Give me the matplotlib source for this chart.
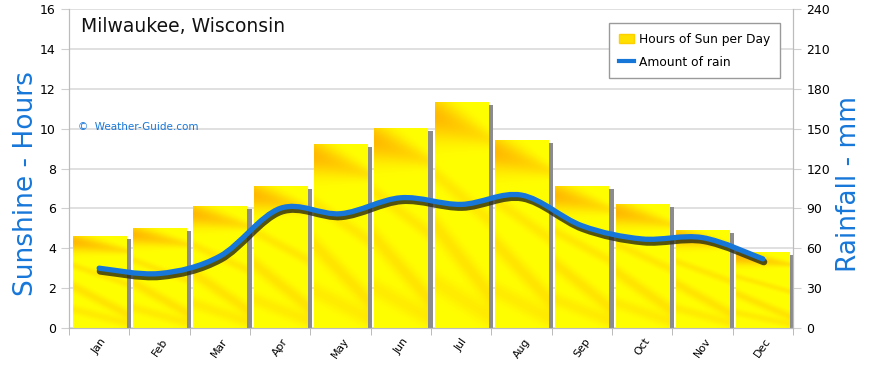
import matplotlib
matplotlib.use("Agg")
import matplotlib.pyplot as plt
import matplotlib.transforms as mtransforms
from matplotlib.path import Path
from matplotlib.patches import PathPatch, Patch
from matplotlib.lines import Line2D
import numpy as np

plt.rcParams['font.family'] = ['DejaVu Sans']

# data
months = ['Jan', 'Feb', 'Mar', 'Apr', 'May', 'Jun',
          'Jul', 'Aug', 'Sep', 'Oct', 'Nov', 'Dec']
sun_hours = [4.6, 5.0, 6.1, 7.1, 9.2, 10.0, 11.3, 9.4, 7.1, 6.2, 4.9, 3.8]
rain_mm = [45, 41, 54, 90, 86, 98, 93, 100, 77, 67, 68, 52]

title = 'Milwaukee, Wisconsin'
blue = '#1777d9'


def bar_texture(n=120, m=60):
    # yellow with an orange wedge at the top and faint streaks below
    v, u = np.mgrid[0:1:n * 1j, 0:1:m * 1j]
    wedge = np.exp(-((v - 0.06 - 0.10 * u) / (0.09 * (1 - 0.7 * u) + 0.01)) ** 2)
    w = 0.8 * wedge * (1 - 0.6 * u)
    w += 0.25 * np.exp(-((v - 0.32 - 0.20 * u) / 0.04) ** 2)
    w += 0.30 * np.exp(-((v - 0.55 - 0.30 * u) / 0.06) ** 2)
    w += 0.22 * np.exp(-((v - 0.80 - 0.15 * u) / 0.05) ** 2)
    w = np.clip(w, 0, 1)
    yel = np.array([1.0, 1.0, 0.0])
    ora = np.array([1.0, 0.66, 0.0])
    img = yel[None, None, :] * (1 - w[..., None]) + ora[None, None, :] * w[..., None]
    return img


def smooth_path(xs, ys):
    # Catmull-Rom through the points, drawn as cubic Bezier segments
    pts = np.column_stack([xs, ys]).astype(float)
    verts = [pts[0]]
    codes = [Path.MOVETO]
    for i in range(len(pts) - 1):
        p0 = pts[i - 1] if i > 0 else pts[i]
        p1 = pts[i]
        p2 = pts[i + 1]
        p3 = pts[i + 2] if i + 2 < len(pts) else pts[i + 1]
        c1 = p1 + (p2 - p0) / 6.0
        c2 = p2 - (p3 - p1) / 6.0
        verts += [c1, c2, p2]
        codes += [Path.CURVE4] * 3
    return Path(verts, codes)


fig = plt.figure(figsize=(8.7, 3.68), dpi=100)
ax = fig.add_axes([0.0793, 0.1087, 0.8322, 0.8668])
ax2 = ax.twinx()

x = np.arange(len(months))
width = 0.88
tex = bar_texture()

# shadows then textured bars
ax.bar(x + 0.085, np.array(sun_hours) - 0.12, width=width, color='#8c8c8c',
       zorder=2)
for xi, h in zip(x, sun_hours):
    ax.imshow(tex, extent=(xi - width / 2, xi + width / 2, 0, h),
              aspect='auto', zorder=3, interpolation='bilinear')

ax.set_xlim(-0.5, len(months) - 0.5)
ax.set_ylim(0, 16)
ax.set_yticks(range(0, 17, 2))
ax.yaxis.grid(True, color='#e0e0e0', lw=1.4, zorder=0)
ax.set_axisbelow(True)
ax.set_xticks(x)
ax.set_xticklabels(months, rotation=55, fontsize=7.8, ha='center')
ax.set_xticks(np.arange(-0.5, len(months)), minor=True)
ax.tick_params(axis='x', which='major', length=0, pad=6)
ax.tick_params(axis='x', which='minor', length=5, color='#b0b0b0')
ax.tick_params(axis='y', length=6, color='#d0d0d0', labelsize=9)

for a in (ax, ax2):
    for s in a.spines.values():
        s.set_color('#bcbcbc')
    a.spines['top'].set_visible(False)

ax2.set_ylim(0, 240)
ax2.set_yticks(range(0, 241, 30))
ax2.tick_params(axis='y', length=6, color='#d0d0d0', labelsize=9)

# rain curve with dark drop shadow
path = smooth_path(x, rain_mm)
shadow_tr = mtransforms.offset_copy(ax2.transData, fig=fig, x=1, y=-3,
                                    units='dots')
ax2.add_patch(PathPatch(path, fill=False, lw=5.0, ec='#2b2b10', alpha=0.8,
                        transform=shadow_tr, capstyle='round', zorder=4))
ax2.add_patch(PathPatch(path, fill=False, lw=3.8, ec=blue,
                        capstyle='round', zorder=5))

fig.text(0.03, 0.5, 'Sunshine - Hours', rotation=90, color=blue,
         fontsize=19, ha='center', va='center')
fig.text(0.976, 0.5, 'Rainfall - mm', rotation=90, color=blue,
         fontsize=19, ha='center', va='center')

ax.text(0.016, 0.945, title, transform=ax.transAxes, fontsize=13.5,
        va='center', ha='left', color='#111111', zorder=6)
ax.text(0.012, 0.63, '\u00a9  Weather-Guide.com', transform=ax.transAxes,
        fontsize=7.5, color=blue, va='center', ha='left', zorder=6)

handles = [Patch(facecolor='#ffe000', edgecolor='#ffd000'),
           Line2D([0], [0], color=blue, lw=3)]
leg = ax2.legend(handles, ['Hours of Sun per Day', 'Amount of rain'],
                 loc='upper right', bbox_to_anchor=(0.99, 0.975),
                 fontsize=8.8, fancybox=False, framealpha=1,
                 edgecolor='#9a9a9a', handlelength=1.2, borderpad=0.8,
                 labelspacing=0.8, handletextpad=0.4)
leg.set_zorder(10)

fig.savefig('out.png', dpi=100)
